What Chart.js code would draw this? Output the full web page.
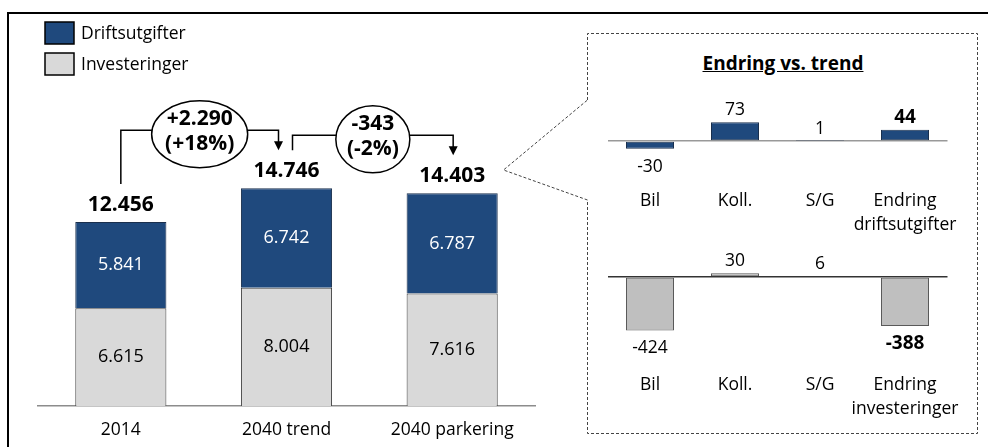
<!DOCTYPE html>
<html>
<head>
<meta charset="utf-8">
<script src="https://cdn.jsdelivr.net/npm/chart.js"></script>
<style>
  body { margin: 0; background: #fff; width: 988px; height: 447px; overflow: hidden; position: relative; font-family: 'Open Sans', sans-serif; }
  #ramme { position: absolute; left: 7px; top: 12px; width: 1000px; height: 460px; border: 2px solid #000; }
  canvas, svg { position: absolute; }
  #hoved { left: 0; top: 0; }
  #drift { left: 580px; top: 90px; }
  #invest { left: 580px; top: 230px; }
  #tittel { position: absolute; left: 683px; width: 200px; top: 50px; text-align: center; font-weight: bold; font-size: 19px; text-decoration: underline; line-height: 26px; }
</style>
</head>
<body>
<div id="ramme"></div>
<svg width="988" height="447" style="left:0;top:0">
  <path d="M587.5 100 L587.5 33.5 L977.5 33.5 L977.5 433.5 L587.5 433.5 L587.5 200 L503.5 170 L587.5 100" fill="none" stroke="#444" stroke-width="1" stroke-dasharray="3 2"/>
</svg>
<div id="tittel">Endring vs. trend</div>
<canvas id="hoved" width="560" height="447"></canvas>
<canvas id="drift" width="400" height="150"></canvas>
<canvas id="invest" width="400" height="190"></canvas>
<script>
// data
const categories = ['2014', '2040 trend', '2040 parkering'];
const investeringer = [6615, 8004, 7616];
const driftsutgifter = [5841, 6742, 6787];
const endringer = [['+2.290', '(+18%)'], ['-343', '(-2%)']];

const driftKategorier = ['Bil', 'Koll.', 'S/G', ['Endring', 'driftsutgifter']];
const investKategorier = ['Bil', 'Koll.', 'S/G', ['Endring', 'investeringer']];
const driftEndring = [-30, 73, 1, 44];
const investEndring = [-424, 30, 6, -388];

const font = "'Open Sans', sans-serif";
const blaa = '#1F497D';

function fmt(n) {
  return String(n).replace(/\B(?=(\d{3})+(?!\d))/g, '.');
}

Chart.defaults.font.family = font;
Chart.defaults.color = '#000';

// etiketter, klammer og tegnforklaring i hovedgrafen
const hovedPynt = {
  id: 'hovedPynt',
  afterDatasetsDraw(chart) {
    const ctx = chart.ctx;
    const inv = chart.getDatasetMeta(0).data;
    const dr = chart.getDatasetMeta(1).data;
    ctx.save();
    ctx.textAlign = 'center';
    ctx.textBaseline = 'middle';

    ctx.font = '18px ' + font;
    inv.forEach((el, i) => {
      ctx.fillStyle = '#000';
      ctx.fillText(fmt(investeringer[i]), el.x, (el.y + el.base) / 2);
    });
    dr.forEach((el, i) => {
      ctx.fillStyle = '#fff';
      ctx.fillText(fmt(driftsutgifter[i]), el.x, (el.y + el.base) / 2);
    });

    // totaler
    ctx.font = 'bold 21px ' + font;
    ctx.fillStyle = '#000';
    const totY = dr.map(el => el.y - 17);
    dr.forEach((el, i) => {
      ctx.fillText(fmt(investeringer[i] + driftsutgifter[i]), el.x, totY[i]);
    });

    // klammer med endring
    const fra = [dr[0].x, dr[1].x + 6];
    const til = [dr[1].x - 8, dr[2].x + 1];
    const rx = [48, 37];
    ctx.strokeStyle = '#000';
    ctx.lineWidth = 1.5;
    endringer.forEach((txt, i) => {
      const startY = totY[i] - 21;
      const tipY = totY[i + 1] - 21;
      const linjeY = tipY - 20;
      ctx.beginPath();
      ctx.moveTo(fra[i], startY);
      ctx.lineTo(fra[i], linjeY);
      ctx.lineTo(til[i], linjeY);
      ctx.lineTo(til[i], tipY - 8);
      ctx.stroke();
      ctx.fillStyle = '#000';
      ctx.beginPath();
      ctx.moveTo(til[i] - 4.5, tipY - 9);
      ctx.lineTo(til[i] + 4.5, tipY - 9);
      ctx.lineTo(til[i], tipY);
      ctx.closePath();
      ctx.fill();

      const cx = (fra[i] + til[i]) / 2, cy = linjeY + 4;
      ctx.beginPath();
      ctx.ellipse(cx, cy, rx[i], 33.5, 0, 0, Math.PI * 2);
      ctx.fillStyle = '#fff';
      ctx.fill();
      ctx.stroke();
      ctx.fillStyle = '#000';
      ctx.font = 'bold 21px ' + font;
      ctx.fillText(txt[0], cx, cy - 15);
      ctx.fillText(txt[1], cx, cy + 10);
    });

    // tegnforklaring
    ctx.textAlign = 'left';
    ctx.font = '17.5px ' + font;
    [chart.data.datasets[1], chart.data.datasets[0]].forEach((ds, i) => {
      const y = 22 + i * 31;
      ctx.fillStyle = ds.backgroundColor;
      ctx.fillRect(45, y, 29, 22);
      ctx.strokeStyle = '#000';
      ctx.lineWidth = 1.5;
      ctx.strokeRect(45, y, 29, 22);
      ctx.fillStyle = '#000';
      ctx.fillText(ds.label, 81, y + 12);
    });
    ctx.restore();
  }
};

new Chart(document.getElementById('hoved'), {
  type: 'bar',
  data: {
    labels: categories,
    datasets: [{
      label: 'Investeringer',
      data: investeringer,
      backgroundColor: '#D9D9D9',
      borderColor: '#404040',
      borderWidth: 1
    }, {
      label: 'Driftsutgifter',
      data: driftsutgifter,
      backgroundColor: blaa,
      borderColor: '#1a2f4d',
      borderWidth: 1
    }]
  },
  options: {
    responsive: false,
    animation: false,
    devicePixelRatio: 1,
    categoryPercentage: 1,
    barPercentage: 0.55,
    layout: { padding: { left: 38, right: 25, top: 110.6, bottom: 0 } },
    plugins: { legend: { display: false }, tooltip: { enabled: false } },
    scales: {
      x: {
        stacked: true,
        grid: { display: false },
        border: { color: '#8c8c8c', width: 1.5 },
        ticks: { font: { size: 17.5 }, padding: 5.5, color: '#000' },
        afterFit: s => { s.height = 41; s.paddingLeft = 0; s.paddingRight = 0; }
      },
      y: { stacked: true, display: false, min: 0, max: 20000 }
    }
  },
  plugins: [hovedPynt]
});

// små endringsgrafer
function endringsgraf(id, kategorier, verdier, farge, kant, nullFarge, min, max, topp, aksehoyde, padding) {
  const pynt = {
    id: 'verdier',
    afterDatasetsDraw(chart) {
      const ctx = chart.ctx;
      ctx.save();
      ctx.textAlign = 'center';
      ctx.textBaseline = 'middle';
      ctx.fillStyle = '#000';
      chart.getDatasetMeta(0).data.forEach((el, i) => {
        const siste = i === verdier.length - 1;
        ctx.font = (siste ? 'bold 19px ' : '17.5px ') + font;
        const y = verdier[i] >= 0 ? el.y - 12 : el.y + 18;
        ctx.fillText(fmt(verdier[i]), el.x, y);
      });
      ctx.restore();
    }
  };
  return new Chart(document.getElementById(id), {
    type: 'bar',
    data: {
      labels: kategorier,
      datasets: [{
        data: verdier,
        backgroundColor: farge,
        borderColor: kant,
        borderWidth: 1,
        borderSkipped: false
      }]
    },
    options: {
      responsive: false,
      animation: false,
      devicePixelRatio: 1,
      categoryPercentage: 1,
      barPercentage: 0.565,
      layout: { padding: { left: 27.5, right: 32.5, top: topp, bottom: 0 } },
      plugins: { legend: { display: false }, tooltip: { enabled: false } },
      scales: {
        x: {
          grid: { display: false },
          border: { display: false },
          ticks: { font: { size: 17.5, lineHeight: 1.37 }, padding: padding, color: '#000', maxRotation: 0, autoSkip: false },
          afterFit: s => { s.height = aksehoyde; s.paddingLeft = 0; s.paddingRight = 0; }
        },
        y: {
          min: min,
          max: max,
          ticks: { display: false, stepSize: 100 },
          border: { display: false },
          grid: {
            drawTicks: false,
            lineWidth: 1.5,
            color: c => c.tick.value === 0 ? nullFarge : 'transparent'
          },
          afterFit: s => { s.width = 0; }
        }
      }
    },
    plugins: [pynt]
  });
}

endringsgraf('drift', driftKategorier, driftEndring, blaa, '#1a2f4d', '#999999', -100, 100, 25.4, 73.4, 14);
endringsgraf('invest', investKategorier, investEndring, '#BFBFBF', '#595959', '#333333', -500, 200, 21.8, 80, 25.5);
</script>
</body>
</html>
